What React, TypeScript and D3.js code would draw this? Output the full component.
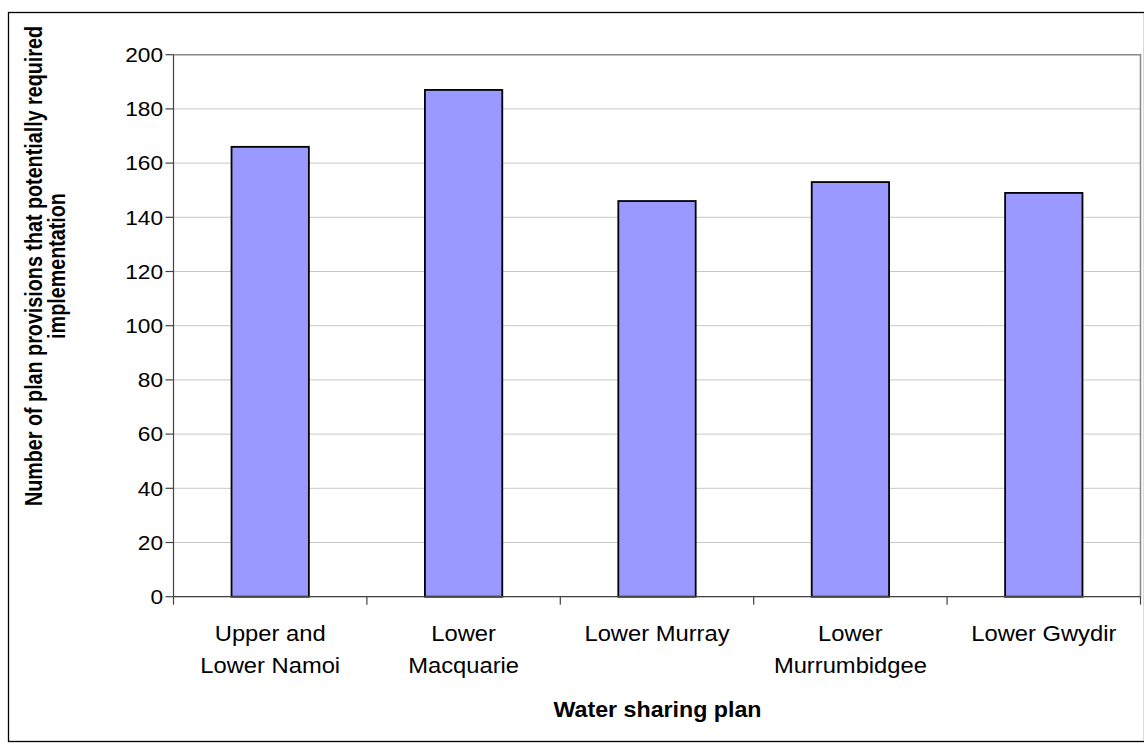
import React from "react";
import * as d3 from "d3";

// Water sharing plans and the count of provisions needing implementation
const plans: string[][] = [
  ["Upper and", "Lower Namoi"],
  ["Lower", "Macquarie"],
  ["Lower Murray"],
  ["Lower", "Murrumbidgee"],
  ["Lower Gwydir"],
];
const provisions: number[] = [166, 187, 146, 153, 149];
const yTicks: number[] = [0, 20, 40, 60, 80, 100, 120, 140, 160, 180, 200];

const yTitleLines = [
  "Number of plan provisions that potentially required",
  "implementation",
];
const xTitle = "Water sharing plan";

const W = 1144;
const H = 747;
const FONT = "'Liberation Sans', Arial, sans-serif";
const SX = 1.08; // horizontal stretch of the glyphs

const plot = { left: 173.5, right: 1140.5, top: 54.7, bottom: 596.7 };

export default function App() {
  const x = d3
    .scaleBand<number>()
    .domain(d3.range(plans.length))
    .range([plot.left, plot.right])
    .paddingInner(0.6)
    .paddingOuter(0.3);
  const y = d3.scaleLinear().domain([0, 200]).range([plot.bottom, plot.top]);

  const boundaries = d3
    .range(plans.length + 1)
    .map((i) => plot.left + i * ((plot.right - plot.left) / plans.length));

  return (
    <svg
      width={W}
      height={H}
      style={{ position: "absolute", left: 0, top: 0, background: "#fff" }}
      fontFamily={FONT}
    >
      {/* chart frame */}
      <rect x={8.5} y={12.5} width={1136} height={729} fill="#fff" stroke="#000" strokeWidth={1.3} />

      {/* gridlines */}
      {yTicks.map((t) => (
        <line key={`g${t}`} x1={plot.left} x2={plot.right} y1={y(t)} y2={y(t)} stroke="#c8c8c8" strokeWidth={1} />
      ))}

      {/* plot area border (top / right) */}
      <path
        d={`M${plot.left},${plot.top}H${plot.right}V${plot.bottom}`}
        fill="none"
        stroke="#8c8c8c"
        strokeWidth={1.6}
      />

      {/* bars */}
      {provisions.map((v, i) => (
        <rect
          key={`b${i}`}
          x={x(i)}
          y={y(v)}
          width={x.bandwidth()}
          height={y(0) - y(v)}
          fill="#9999ff"
          stroke="#000"
          strokeWidth={1.8}
        />
      ))}

      {/* y axis */}
      <line x1={plot.left} x2={plot.left} y1={plot.top} y2={plot.bottom} stroke="#444" strokeWidth={1.2} />
      {yTicks.map((t) => (
        <g key={`t${t}`}>
          <line x1={plot.left - 8} x2={plot.left} y1={y(t)} y2={y(t)} stroke="#444" strokeWidth={1.2} />
          <text
            transform={`translate(${163},${y(t)}) scale(${SX},1)`}
            textAnchor="end"
            dy="0.35em"
            fontSize={21}
            fill="#000"
          >
            {t}
          </text>
        </g>
      ))}

      {/* x axis */}
      <line x1={plot.left} x2={plot.right} y1={plot.bottom} y2={plot.bottom} stroke="#444" strokeWidth={1.2} />
      {boundaries.map((bx, i) => (
        <line key={`xt${i}`} x1={bx} x2={bx} y1={plot.bottom} y2={plot.bottom + 8} stroke="#444" strokeWidth={1.2} />
      ))}
      {plans.map((lines, i) => (
        <g key={`xl${i}`}>
          {lines.map((ln, j) => (
            <text
              key={j}
              transform={`translate(${(x(i) as number) + x.bandwidth() / 2},${641 + j * 31.5}) scale(${SX},1)`}
              textAnchor="middle"
              fontSize={22}
              fill="#000"
            >
              {ln}
            </text>
          ))}
        </g>
      ))}

      {/* axis titles */}
      <text
        transform={`translate(${657.5},${716.7}) scale(${SX},1)`}
        textAnchor="middle"
        fontSize={21.5}
        fontWeight="bold"
        fill="#000"
      >
        {xTitle}
      </text>
      {yTitleLines.map((ln, j) => (
        <text
          key={`yt${j}`}
          transform={`translate(${42 + j * 23},${266}) scale(1.1,0.94) rotate(-90)`}
          textAnchor="middle"
          fontSize={21}
          fontWeight="bold"
          fill="#000"
        >
          {ln}
        </text>
      ))}
    </svg>
  );
}
